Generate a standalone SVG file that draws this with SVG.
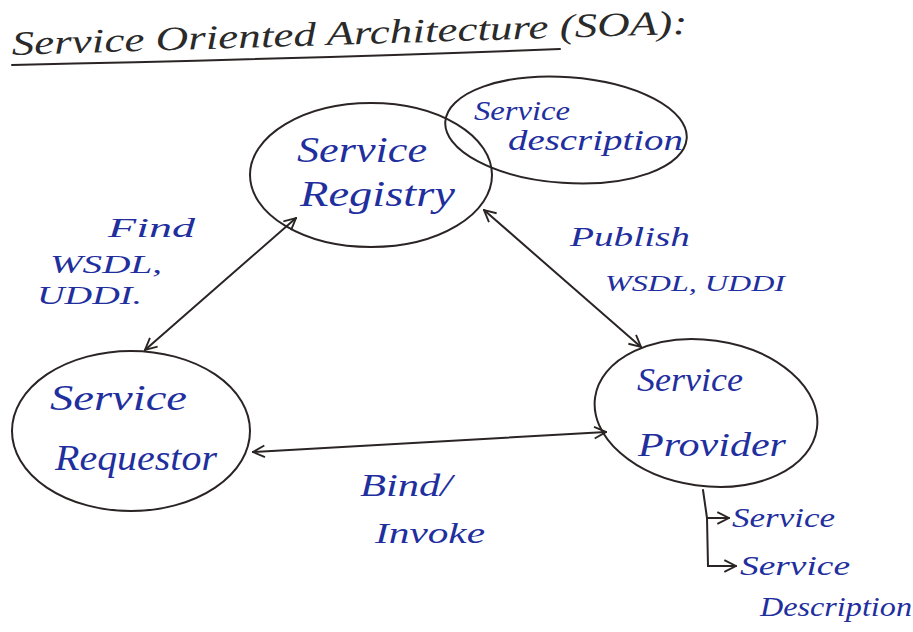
<svg xmlns="http://www.w3.org/2000/svg" width="913" height="632" viewBox="0 0 913 632">
  <style>
    .ink { fill: none; stroke: #2b2424; stroke-width: 2; stroke-linecap: round; }
    .hw { font-family: "Liberation Serif", serif; font-style: italic; fill: #1f2f9e; }
    .title { font-family: "Liberation Serif", serif; font-style: italic; fill: #2a2a2a; }
  </style>
  <defs>
    <marker id="tip" viewBox="0 0 12 12" refX="11" refY="6" markerWidth="14" markerHeight="14" markerUnits="userSpaceOnUse" orient="auto-start-reverse">
      <path d="M1,1 L11,6 L1,11" fill="none" stroke="#2b2424" stroke-width="1.6"/>
    </marker>
  </defs>
  <rect width="913" height="632" fill="#ffffff"/>

  <!-- heading, written on a slight upward slant -->
  <g id="heading">
    <text class="title" x="12" y="55" font-size="34" textLength="676" lengthAdjust="spacingAndGlyphs" transform="rotate(-1.8 12 55)">Service Oriented Architecture (SOA):</text>
    <path class="ink" d="M12,65 Q300,59 560,49"/>
  </g>

  <!-- connectors -->
  <g id="connectors">
    <line class="ink" x1="145" y1="350" x2="296" y2="218" marker-start="url(#tip)" marker-end="url(#tip)"/>
    <line class="ink" x1="484" y1="210" x2="641" y2="347" marker-start="url(#tip)" marker-end="url(#tip)"/>
    <line class="ink" x1="253" y1="452" x2="606" y2="432" marker-start="url(#tip)" marker-end="url(#tip)"/>
    <path class="ink" d="M703,490 L707,518 L729,518" marker-end="url(#tip)"/>
    <path class="ink" d="M707,518 L708,566 L736,566" marker-end="url(#tip)"/>
  </g>

  <g id="service-registry">
    <ellipse class="ink" cx="371" cy="175" rx="121" ry="72"/>
    <text class="hw" x="297" y="162" font-size="36" textLength="130" lengthAdjust="spacingAndGlyphs">Service</text>
    <text class="hw" x="300" y="206" font-size="36" textLength="155" lengthAdjust="spacingAndGlyphs">Registry</text>
  </g>

  <g id="service-description">
    <ellipse class="ink" cx="566" cy="130" rx="121" ry="53" transform="rotate(4 566 130)"/>
    <text class="hw" x="474" y="120" font-size="28" textLength="96" lengthAdjust="spacingAndGlyphs">Service</text>
    <text class="hw" x="508" y="150" font-size="30" textLength="175" lengthAdjust="spacingAndGlyphs">description</text>
  </g>

  <g id="service-requestor">
    <ellipse class="ink" cx="131" cy="431" rx="119" ry="80"/>
    <text class="hw" x="50" y="410" font-size="36" textLength="137" lengthAdjust="spacingAndGlyphs">Service</text>
    <text class="hw" x="55" y="470" font-size="36" textLength="162" lengthAdjust="spacingAndGlyphs">Requestor</text>
  </g>

  <g id="service-provider">
    <ellipse class="ink" cx="706" cy="413" rx="112" ry="73" transform="rotate(8 706 413)"/>
    <text class="hw" x="637" y="391" font-size="34" textLength="106" lengthAdjust="spacingAndGlyphs">Service</text>
    <text class="hw" x="638" y="456" font-size="34" textLength="148" lengthAdjust="spacingAndGlyphs">Provider</text>
  </g>

  <g id="find-label">
    <text class="hw" x="108" y="237" font-size="28" textLength="87" lengthAdjust="spacingAndGlyphs">Find</text>
    <text class="hw" x="50" y="273" font-size="26" textLength="112" lengthAdjust="spacingAndGlyphs">WSDL,</text>
    <text class="hw" x="37" y="304" font-size="26" textLength="105" lengthAdjust="spacingAndGlyphs">UDDI.</text>
  </g>

  <g id="publish-label">
    <text class="hw" x="570" y="246" font-size="28" textLength="120" lengthAdjust="spacingAndGlyphs">Publish</text>
    <text class="hw" x="605" y="291" font-size="24" textLength="180" lengthAdjust="spacingAndGlyphs">WSDL, UDDI</text>
  </g>

  <g id="bind-label">
    <text class="hw" x="360" y="496" font-size="32" textLength="92" lengthAdjust="spacingAndGlyphs">Bind/</text>
    <text class="hw" x="375" y="543" font-size="30" textLength="110" lengthAdjust="spacingAndGlyphs">Invoke</text>
  </g>

  <g id="provider-outputs">
    <text class="hw" x="732" y="527" font-size="28" textLength="103" lengthAdjust="spacingAndGlyphs">Service</text>
    <text class="hw" x="740" y="575" font-size="28" textLength="110" lengthAdjust="spacingAndGlyphs">Service</text>
    <text class="hw" x="760" y="616" font-size="28" textLength="152" lengthAdjust="spacingAndGlyphs">Description</text>
  </g>
</svg>
